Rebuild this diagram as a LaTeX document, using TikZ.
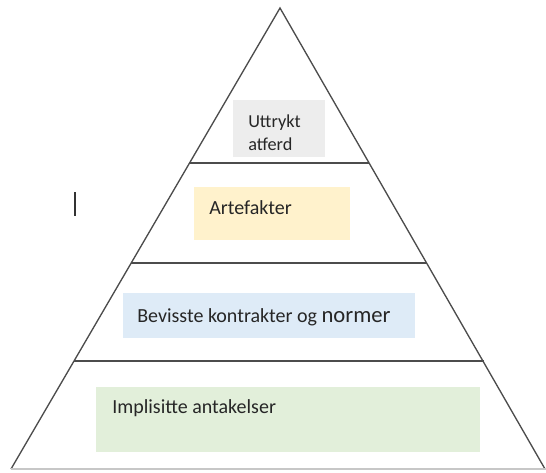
\documentclass[tikz,border=0pt]{standalone}
\usepackage{fontspec}
\setmainfont{Carlito}
\definecolor{fillgray}{HTML}{EDEDED}
\definecolor{fillyellow}{HTML}{FFF2CC}
\definecolor{fillblue}{HTML}{DEEBF7}
\definecolor{fillgreen}{HTML}{E2EFDA}
\begin{document}
\begin{tikzpicture}[x=0.75pt,y=-0.75pt,
  tier/.style={draw=black!70,line width=1.2pt},
  lbl/.style={anchor=base west,inner sep=0pt,font=\fontsize{15}{18}\selectfont,text=black!85},
  toplbl/.style={lbl,font=\fontsize{13.7}{16}\selectfont},
]
\useasboundingbox (0,0) rectangle (546,472);
% colour fields
\fill[fillgray] (233,100) rectangle (325,157);
\fill[fillyellow] (194,187) rectangle (350,240);
\fill[fillblue] (123,293) rectangle (415,338);
\fill[fillgreen] (96,387) rectangle (480,452);
% pyramid outline
\coordinate (apex) at (280,8);
\coordinate (bl) at (11,469);
\coordinate (br) at (545,469);
\draw[black!70,line width=1pt] (bl) -- (apex) -- (br);
\draw[black!22,line width=1pt] (bl) -- (546,469);
% tier dividers
\coordinate (d1l) at (190,163); \coordinate (d1r) at (369,163);
\coordinate (d2l) at (131,263); \coordinate (d2r) at (426,263);
\coordinate (d3l) at (74,361);  \coordinate (d3r) at (484,361);
\draw[tier] (d1l) -- (d1r);
\draw[tier] (d2l) -- (d2r);
\draw[tier] (d3l) -- (d3r);
% text cursor
\coordinate (ct) at (75,192); \coordinate (cb) at (75,216);
\draw[black!80,line width=0.9pt] (ct) -- (cb);
% labels
\node[toplbl] (t1) at (248,127) {Uttrykt};
\node[toplbl] (t1b) at (248,150) {atferd};
\node[lbl] (t2) at (209,214) {Artefakter};
\node[lbl] (t3) at (137,322) {Bevisste kontrakter og {\fontsize{17}{20}\selectfont normer}};
\node[lbl] (t4) at (112,413) {Implisitte antakelser};
\end{tikzpicture}
\end{document}
